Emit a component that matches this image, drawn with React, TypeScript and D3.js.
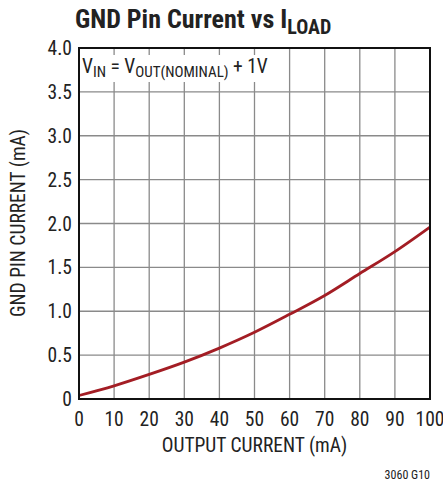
import React, { useEffect, useRef } from 'react';
import * as d3 from 'd3';

// output current (mA) and GND pin current (mA)
const loadCurrent = [0, 10, 20, 30, 40, 50, 60, 70, 80, 90, 100];
const gndCurrent = [0.04, 0.15, 0.28, 0.42, 0.58, 0.76, 0.965, 1.18, 1.43, 1.68, 1.96];
const xTicks = [0, 10, 20, 30, 40, 50, 60, 70, 80, 90, 100];
const yTicks = [0, 0.5, 1.0, 1.5, 2.0, 2.5, 3.0, 3.5, 4.0];

const FONT = '"Liberation Sans Narrow", "Arial Narrow", "Roboto Condensed", "Liberation Sans", sans-serif';

const App: React.FC = () => {
    const ref = useRef<SVGSVGElement | null>(null);

    useEffect(() => {
        if (!ref.current) return;
        const width = 443;
        const height = 485;
        const m = { left: 79, right: 430, top: 48, bottom: 399 };

        const svg = d3.select(ref.current);
        svg.selectAll('*').remove();
        svg.attr('width', width).attr('height', height);

        const x = d3.scaleLinear().domain([0, 100]).range([m.left, m.right]);
        const y = d3.scaleLinear().domain([0, 4]).range([m.bottom, m.top]);

        // grid
        const grid = svg.append('g');
        grid.selectAll('line.v')
            .data(xTicks.slice(1, -1))
            .enter().append('line')
            .attr('x1', d => x(d)).attr('x2', d => x(d))
            .attr('y1', m.top).attr('y2', m.bottom)
            .attr('stroke', '#8a8a8a').attr('stroke-width', 1.3);
        grid.selectAll('line.h')
            .data(yTicks.slice(1, -1))
            .enter().append('line')
            .attr('x1', m.left).attr('x2', m.right)
            .attr('y1', d => y(d)).attr('y2', d => y(d))
            .attr('stroke', '#8a8a8a').attr('stroke-width', 1.3);

        // white box behind annotation
        svg.append('rect')
            .attr('x', m.left + 1).attr('y', m.top + 7)
            .attr('width', 200).attr('height', 27)
            .attr('fill', '#fff');

        // curve
        const line = d3.line<number>()
            .x((_, i) => x(loadCurrent[i]))
            .y(d => y(d))
            .curve(d3.curveMonotoneX);
        svg.append('path')
            .datum(gndCurrent)
            .attr('d', line)
            .attr('fill', 'none')
            .attr('stroke', '#a31d24')
            .attr('stroke-width', 2.8);

        // frame
        svg.append('rect')
            .attr('x', m.left).attr('y', m.top)
            .attr('width', m.right - m.left).attr('height', m.bottom - m.top)
            .attr('fill', 'none').attr('stroke', '#111').attr('stroke-width', 2);

        // tick labels
        svg.selectAll('text.xt')
            .data(xTicks)
            .enter().append('text')
            .attr('x', d => x(d)).attr('y', 426)
            .attr('text-anchor', 'middle')
            .style('font-family', FONT).style('font-size', '19.5px').style('fill', '#222')
            .text(d => String(d));
        svg.selectAll('text.yt')
            .data(yTicks)
            .enter().append('text')
            .attr('x', 72).attr('y', d => y(d) + 7)
            .attr('text-anchor', 'end')
            .style('font-family', FONT).style('font-size', '19.5px').style('fill', '#222')
            .text(d => (d === 0 ? '0' : d.toFixed(1)));

        // axis labels
        svg.append('text')
            .attr('x', (m.left + m.right) / 2).attr('y', 452)
            .attr('text-anchor', 'middle')
            .style('font-family', FONT).style('font-size', '19.5px').style('fill', '#222')
            .text('OUTPUT CURRENT (mA)');
        svg.append('text')
            .attr('transform', `translate(25, 223) rotate(-90)`)
            .attr('text-anchor', 'middle')
            .style('font-family', FONT).style('font-size', '19.5px').style('fill', '#222')
            .text('GND PIN CURRENT (mA)');

        // title
        const title = svg.append('text')
            .attr('x', 75).attr('y', 28)
            .style('font-family', FONT).style('font-size', '26px')
            .style('font-weight', 'bold').style('fill', '#222');
        title.append('tspan').text('GND Pin Current vs I');
        title.append('tspan').attr('dy', 6).style('font-size', '20px').text('LOAD');

        // annotation
        const note = svg.append('text')
            .attr('x', 82).attr('y', 73)
            .style('font-family', FONT).style('font-size', '19.5px').style('fill', '#222');
        note.append('tspan').text('V');
        note.append('tspan').attr('dy', 4).style('font-size', '15px').text('IN');
        note.append('tspan').attr('dy', -4).text(' = V');
        note.append('tspan').attr('dy', 4).style('font-size', '15px').text('OUT(NOMINAL)');
        note.append('tspan').attr('dy', -4).text(' + 1V');

        svg.append('text')
            .attr('x', 430).attr('y', 479)
            .attr('text-anchor', 'end')
            .style('font-family', FONT).style('font-size', '12px').style('fill', '#222')
            .text('3060 G10');
    }, []);

    return (
        <svg ref={ref} style={{ position: 'absolute', left: 0, top: 0 }} />
    );
};

export default App;
